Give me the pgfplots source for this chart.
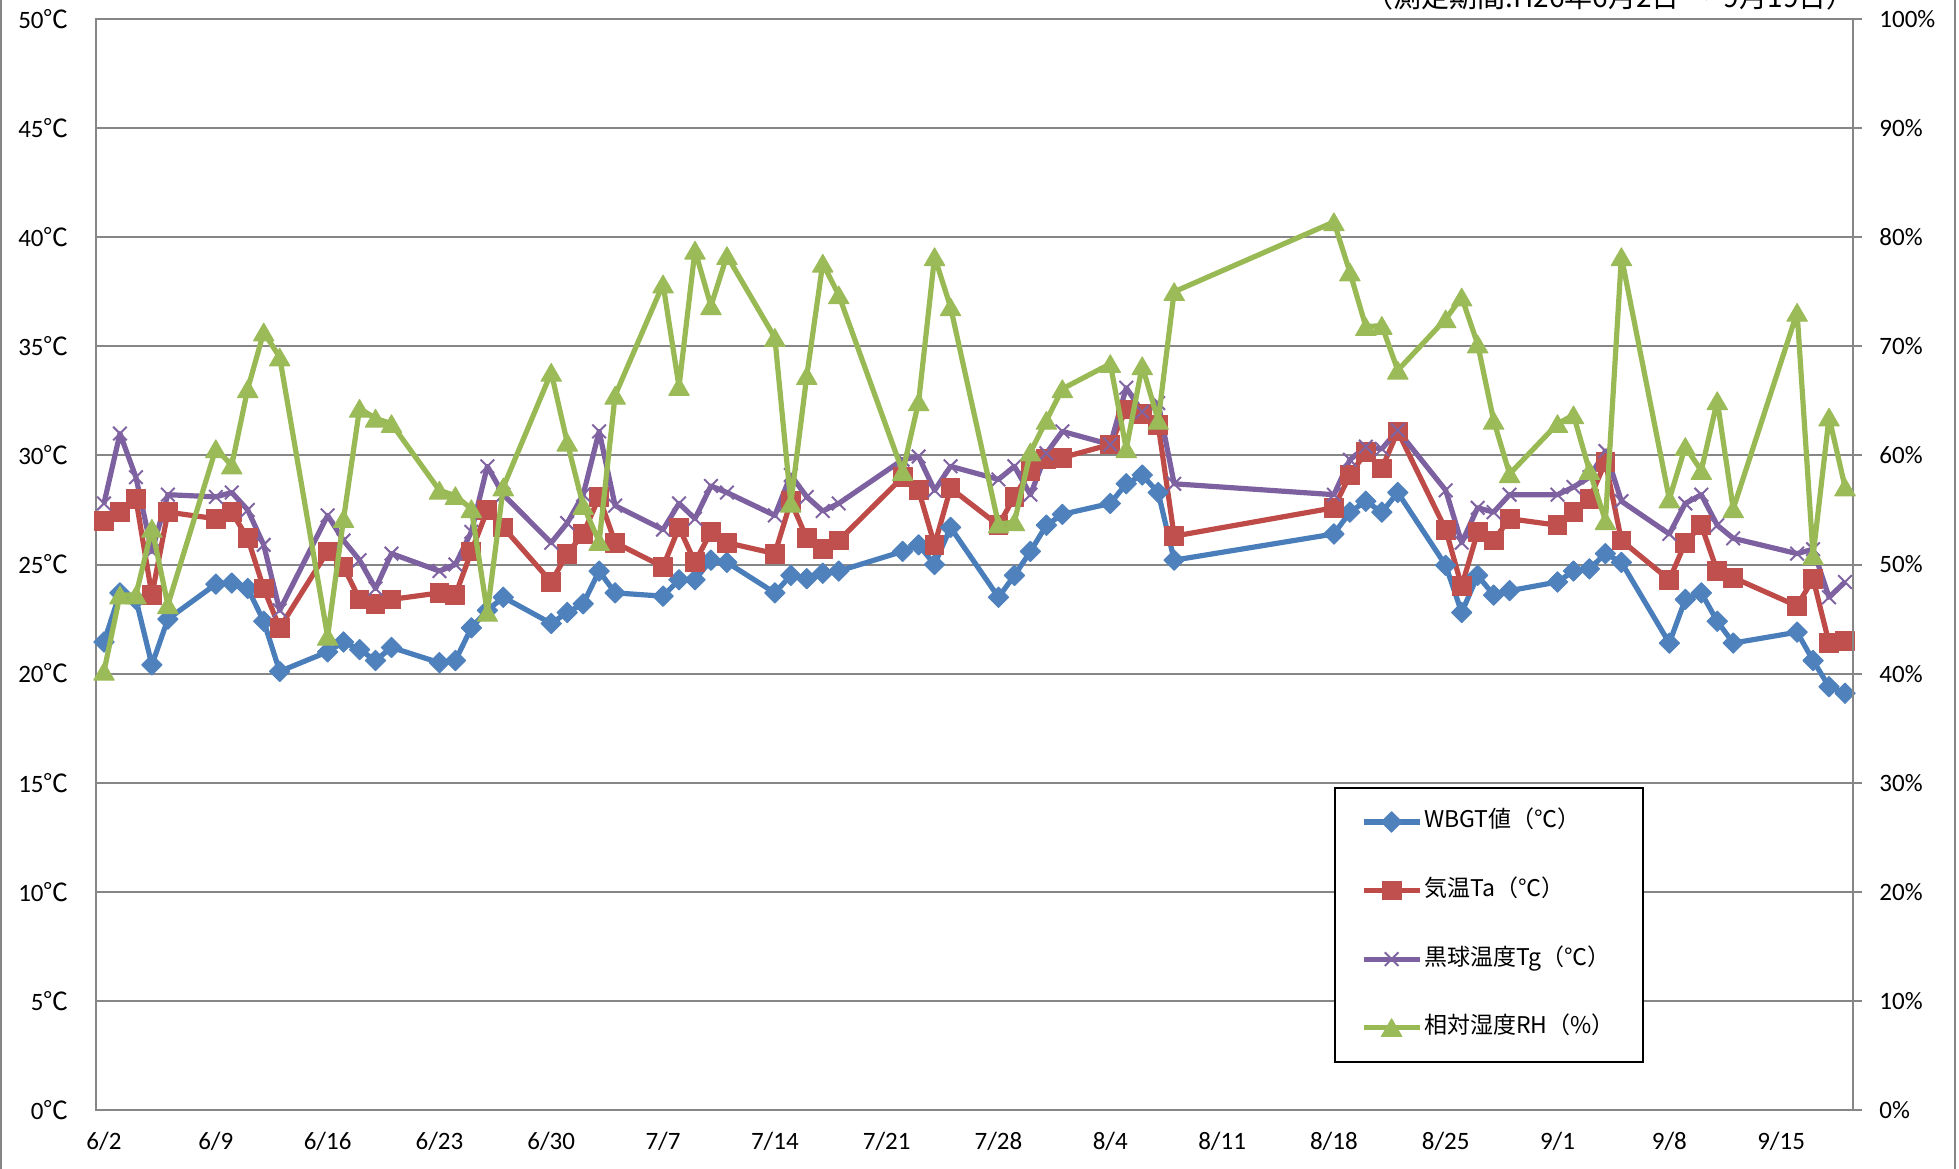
\documentclass[border=0pt]{standalone}
\usepackage{fontspec}
\usepackage{pgfplots}
\usepackage{pgfplotstable}
\pgfplotsset{compat=1.18}
\setmainfont{Carlito}
\newfontfamily\cjk{Noto Sans CJK JP}
\definecolor{gridgray}{HTML}{868686}
\definecolor{cblue}{HTML}{4A7EBB}
\definecolor{cbluem}{HTML}{4F81BD}
\definecolor{cred}{HTML}{BE4B48}
\definecolor{credm}{HTML}{C0504D}
\definecolor{cpurple}{HTML}{7D60A0}
\definecolor{cpurplem}{HTML}{8064A2}
\definecolor{cgreen}{HTML}{98B954}
\definecolor{cgreenm}{HTML}{9BBB59}
\newcommand{\dC}{{\cjk ℃}}
\pgfplotstableread{
d wbgt ta tg rh
0 21.45 27.0 27.8 40.2
1 23.7 27.4 31.0 47.2
2 23.4 28.0 29.0 47.2
3 20.4 23.6 25.6 53.3
4 22.5 27.4 28.2 46.3
7 24.1 27.1 28.1 60.6
8 24.15 27.4 28.3 59.1
9 23.9 26.2 27.5 66.1
10 22.4 23.9 25.9 71.3
11 20.1 22.1 22.9 69.0
14 21.0 25.6 27.25 43.4
15 21.45 24.9 26.1 54.2
16 21.1 23.4 25.2 64.3
17 20.6 23.2 23.9 63.4
18 21.2 23.4 25.5 62.9
21 20.5 23.7 24.7 56.8
22 20.6 23.6 25.0 56.3
23 22.1 25.6 26.5 55.1
24 22.9 27.5 29.5 45.6
25 23.5 26.7 28.2 57.1
28 22.3 24.2 26.0 67.6
29 22.8 25.5 26.9 61.2
30 23.2 26.4 28.2 55.4
31 24.7 28.1 31.1 52.1
32 23.7 26.0 27.7 65.5
35 23.55 24.9 26.6 75.7
36 24.3 26.7 27.8 66.3
37 24.3 25.1 27.1 78.8
38 25.2 26.5 28.6 73.7
39 25.1 26.0 28.3 78.3
42 23.7 25.5 27.25 70.8
43 24.5 27.9 29.1 55.6
44 24.35 26.2 28.1 67.3
45 24.6 25.7 27.45 77.6
46 24.7 26.1 27.8 74.7
50 25.6 29.0 29.8 58.5
51 25.9 28.4 29.95 64.9
52 25.0 25.9 28.4 78.2
53 26.7 28.5 29.5 73.6
56 23.5 26.8 28.9 53.7
57 24.5 28.1 29.5 53.9
58 25.6 29.3 28.2 60.3
59 26.8 29.85 30.1 63.2
60 27.3 29.9 31.1 66.1
63 27.8 30.5 30.5 68.4
64 28.7 32.1 33.1 60.6
65 29.1 31.9 32.0 68.2
66 28.3 31.4 32.4 63.2
67 25.2 26.3 28.7 75.0
77 26.4 27.6 28.2 81.4
78 27.4 29.1 29.8 76.8
79 27.9 30.15 30.4 71.8
80 27.4 29.4 30.3 71.9
81 28.3 31.1 31.15 67.8
84 24.96 26.6 28.4 72.5
85 22.8 24.0 26.0 74.5
86 24.5 26.5 27.6 70.2
87 23.6 26.1 27.4 63.2
88 23.8 27.1 28.2 58.3
91 24.2 26.8 28.2 62.9
92 24.7 27.4 28.55 63.7
93 24.8 28.0 29.0 58.6
94 25.5 29.7 30.2 54.0
95 25.1 26.1 27.9 78.2
98 21.4 24.3 26.4 56.0
99 23.4 26.0 27.8 60.8
100 23.7 26.8 28.2 58.6
101 22.4 24.7 26.8 65.0
102 21.4 24.4 26.2 55.1
106 21.9 23.1 25.5 73.1
107 20.6 24.35 25.7 50.8
108 19.4 21.4 23.5 63.5
109 19.1 21.5 24.2 57.1
}\datatable
\pgfplotsset{
  wbgtstyle/.style={color=cblue, line width=2.6pt, line join=round, mark=square*, mark size=3.6pt,
    mark options={rotate=45, fill=cbluem, draw=cbluem, line width=0.5pt}},
  tastyle/.style={color=cred, line width=2.6pt, line join=round, mark=square*, mark size=4.7pt,
    mark options={fill=credm, draw=credm, line width=0.5pt}},
  tgstyle/.style={color=cpurple, line width=2.6pt, line join=round, mark=x, mark size=4.8pt,
    mark options={draw=cpurplem, line width=1pt}},
  rhstyle/.style={color=cgreen, line width=2.6pt, line join=round, mark=triangle*, mark size=5.9pt,
    mark options={fill=cgreenm, draw=cgreenm, line width=0.5pt, yshift=-1.4pt}},
  common/.style={scale only axis, width=878.5pt, height=545.5pt,
    at={(48pt,-555pt)}, anchor=south west,
    xmin=-0.5, xmax=109.5, tick label style={font=\fontsize{12.5}{15}\selectfont}},
}
\begin{document}
\begin{tikzpicture}
\draw[gridgray, line width=1pt] (0.5pt,10pt) -- (0.5pt,-600pt);
\draw[gridgray, line width=1pt] (977.5pt,10pt) -- (977.5pt,-600pt);
\node[anchor=base east, font=\cjk\fontsize{14}{16}\selectfont, inner sep=0pt] at (927.5pt,-3.5pt) {（測定期間:H26年6月2日\hspace{4pt}～\hspace{4pt}9月19日）};
\begin{axis}[common,
  ymin=0, ymax=50,
  ytick={0,5,...,50},
  yticklabels={0\dC,5\dC,10\dC,15\dC,20\dC,25\dC,30\dC,35\dC,40\dC,45\dC,50\dC},
  xtick={0,7,...,105},
  xticklabels={6/2,6/9,6/16,6/23,6/30,7/7,7/14,7/21,7/28,8/4,8/11,8/18,8/25,9/1,9/8,9/15},
  axis line style={gridgray, line width=1pt},
  ymajorgrids, grid style={gridgray, line width=1pt},
  major tick length=0pt,
  yticklabel style={anchor=east, inner sep=0pt, xshift=-13.5pt},
  xticklabel style={anchor=north, inner sep=0pt, yshift=-11pt},
  ytick pos=left, xtick pos=bottom,
]
\addplot[wbgtstyle] table[x=d, y=wbgt] {\datatable};
\addplot[tastyle] table[x=d, y=ta] {\datatable};
\addplot[tgstyle] table[x=d, y=tg] {\datatable};
\end{axis}
\begin{axis}[common,
  ymin=0, ymax=100,
  axis x line=none, axis y line*=right,
  ytick={0,10,...,100},
  yticklabels={0\%,10\%,20\%,30\%,40\%,50\%,60\%,70\%,80\%,90\%,100\%},
  y axis line style={gridgray, line width=1pt},
  tick style={gridgray, line width=1pt},
  tick align=outside, major tick length=4.5pt,
  yticklabel style={anchor=west, inner sep=0pt, xshift=8.5pt},
  legend image code/.code={\draw[mark repeat=2,mark phase=2,#1] plot coordinates {(0pt,0pt) (14pt,0pt) (28pt,0pt)};},
  legend cell align=left,
  legend style={at={(0.7046,0.2961)}, anchor=north west, draw=black, line width=1pt, fill=white,
    font=\cjk\fontsize{11.5}{13}\selectfont, inner xsep=13pt, inner ysep=10.5pt, row sep=21.3pt,
    nodes={inner sep=1pt, text height=8.5pt, text depth=2.5pt}},
]
\addlegendimage{wbgtstyle}
\addlegendentry{WBGT値（℃）}
\addlegendimage{tastyle}
\addlegendentry{気温Ta（℃）}
\addlegendimage{tgstyle}
\addlegendentry{黒球温度Tg（℃）}
\addplot[rhstyle] table[x=d, y=rh] {\datatable};
\addlegendentry{相対湿度RH（\%）}
\end{axis}
\pgfresetboundingbox
\path[use as bounding box] (0,0) rectangle (979.5pt,-584pt);
\end{tikzpicture}
\end{document}
